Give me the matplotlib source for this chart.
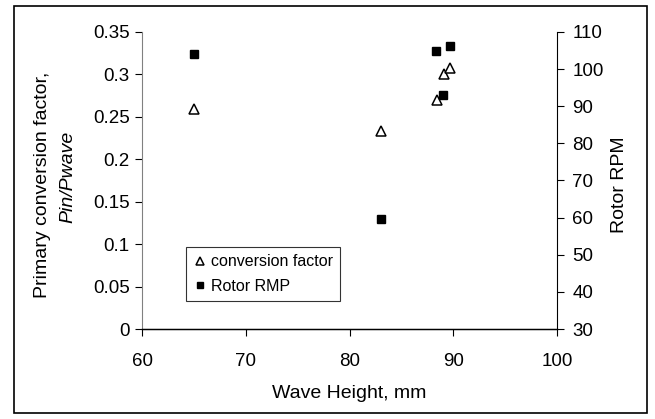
import matplotlib.pyplot as plt
from matplotlib.patches import Rectangle

plt.rcParams['font.family'] = ['Liberation Sans', 'DejaVu Sans']

# conversion factor vs wave height
wave_cf = [65.0, 83.0, 88.4, 89.1, 89.7]
conv_factor = [0.259, 0.233, 0.270, 0.301, 0.308]

# rotor rpm vs wave height
wave_rpm = [65.0, 83.0, 88.3, 89.0, 89.7]
rotor_rpm = [104.2, 59.6, 105.0, 93.0, 106.2]

W, H = 655, 419
fig = plt.figure(figsize=(6.55, 4.19), dpi=100)
fig.patches.append(Rectangle((14 / W, 6 / H), 633 / W, 407 / H,
                             transform=fig.transFigure, fill=False,
                             edgecolor='black', linewidth=1.2))

ax = fig.add_axes([142 / W, 1 - 329 / H, 415 / W, 297 / H])
ax2 = ax.twinx()

h1, = ax.plot(wave_cf, conv_factor, linestyle='none', marker='^', markersize=7,
              markerfacecolor='white', markeredgecolor='black', markeredgewidth=1.1)
h2, = ax2.plot(wave_rpm, rotor_rpm, linestyle='none', marker='s', markersize=5.8,
               color='black')

ax.set_xlim(60, 100)
ax.set_ylim(0, 0.35)
ax2.set_ylim(30, 110)
ax.set_xticks([60, 70, 80, 90, 100])
ax.set_yticks([0, 0.05, 0.1, 0.15, 0.2, 0.25, 0.3, 0.35])
ax.set_yticklabels(['0', '0.05', '0.1', '0.15', '0.2', '0.25', '0.3', '0.35'])
ax2.set_yticks(range(30, 111, 10))

for a in (ax, ax2):
    a.spines['top'].set_visible(False)
    a.tick_params(labelsize=13.5, length=5, width=0.8, colors='black')
ax.spines['left'].set_color('#808080')
ax.spines['bottom'].set_linewidth(1.0)
ax.spines['right'].set_visible(False)
ax2.spines['left'].set_visible(False)
ax.tick_params(axis='x', direction='out', pad=12)
ax.tick_params(axis='y', direction='out', pad=4)
ax2.tick_params(axis='y', direction='out', pad=6)

fig.text(349 / W, 1 - 393 / H, 'Wave Height, mm', fontsize=14,
         ha='center', va='center')
fig.text(43 / W, 1 - 185 / H, 'Primary conversion factor,', rotation=90,
         fontsize=14, ha='center', va='center')
fig.text(68 / W, 1 - 177 / H, 'Pin/Pwave', rotation=90, fontsize=14,
         style='italic', ha='center', va='center')
fig.text(619 / W, 1 - 185 / H, 'Rotor RPM', rotation=90, fontsize=14,
         ha='center', va='center')

leg = ax.legend([h1, h2], ['conversion factor', 'Rotor RMP'],
                loc='upper left', bbox_to_anchor=(44 / 415, 82 / 297),
                fontsize=11.5, frameon=True, fancybox=False, handletextpad=0.3,
                handlelength=0.8, borderpad=0.45, labelspacing=0.6,
                markerscale=0.75, borderaxespad=0)
leg.get_frame().set_edgecolor('black')
leg.get_frame().set_linewidth(0.8)

fig.savefig('out.png', dpi=100)
